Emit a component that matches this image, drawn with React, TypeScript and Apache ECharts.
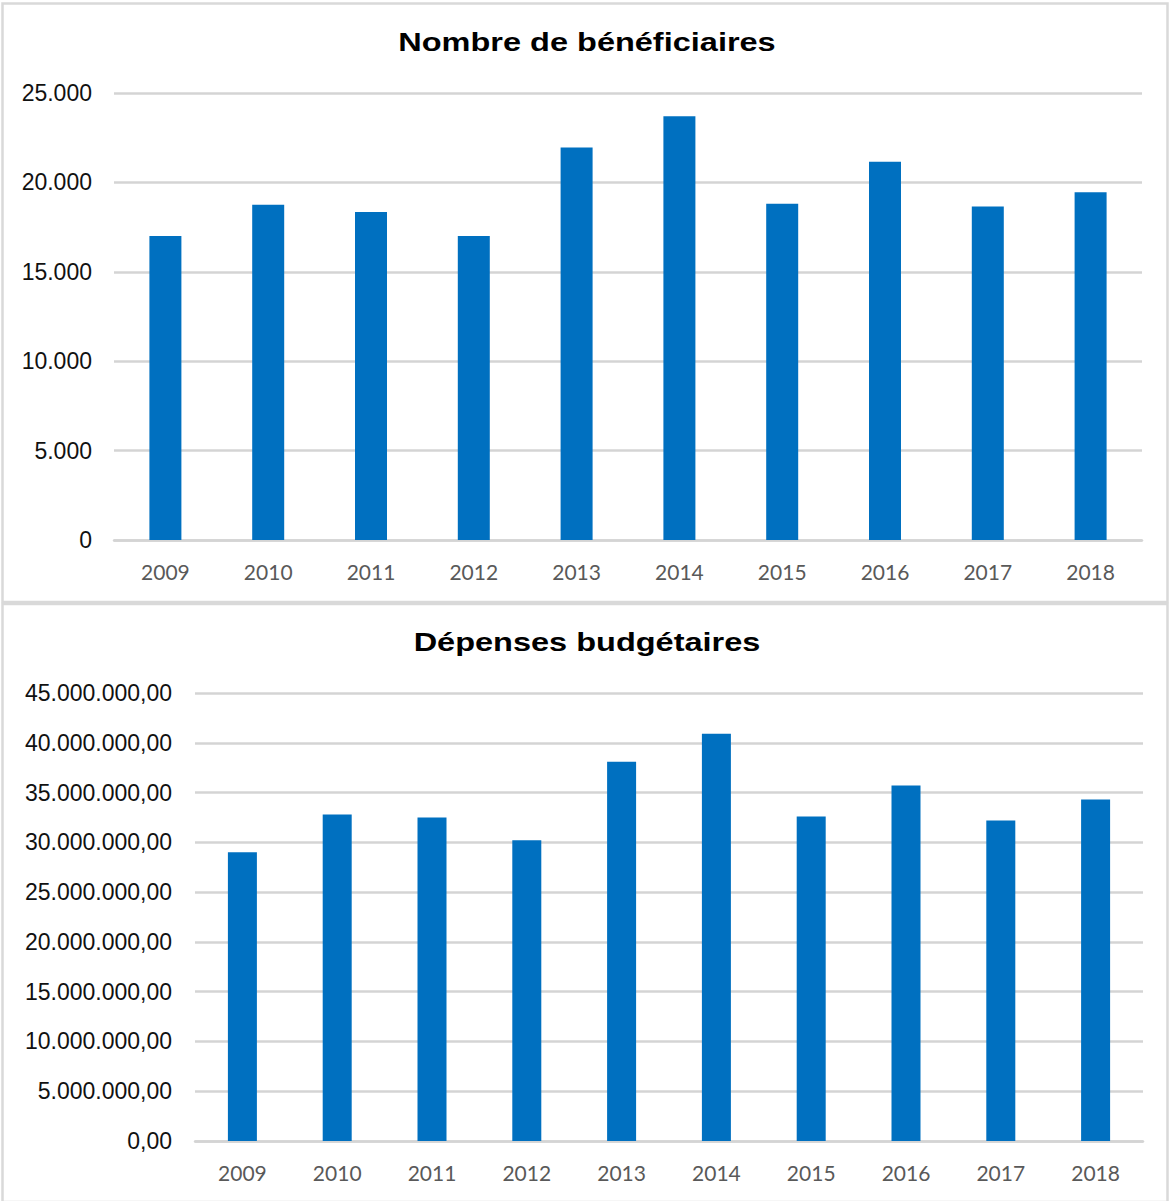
import React, { useEffect, useRef } from "react";
import * as echarts from "echarts";

const years = ["2009", "2010", "2011", "2012", "2013", "2014", "2015", "2016", "2017", "2018"];
const beneficiaires = [17000, 18750, 18350, 17000, 21950, 23700, 18800, 21150, 18650, 19450];
const depenses = [
  29000000, 32800000, 32500000, 30200000, 38100000, 40900000, 32600000, 35700000, 32200000, 34300000,
];
const titleTop = "Nombre de bénéficiaires";
const titleBottom = "Dépenses budgétaires";

const thousands = (v: number) => String(Math.round(v)).replace(/\B(?=(\d{3})+(?!\d))/g, ".");

export default function App() {
  const ref = useRef<HTMLDivElement>(null);
  useEffect(() => {
    document.body.style.margin = "0";
    const chart = echarts.init(ref.current!, null, { renderer: "svg" });
    const gridLine = { show: true, lineStyle: { color: "#d4d4d4", width: 2.5 } };
    const yLabel = (fmt: (v: number) => string, margin: number) => ({
      color: "#111111",
      fontFamily: "Liberation Sans",
      fontSize: 23,
      margin,
      formatter: fmt,
    });
    const xAxisCommon = {
      type: "category" as const,
      data: years,
      axisTick: { show: false },
      axisLine: { show: true, lineStyle: { color: "#d4d4d4", width: 2.5 } },
      axisLabel: { color: "#595959", fontFamily: "Lato", fontSize: 21, margin: 21 },
    };
    const titleText = (text: string, y: number) => ({
      type: "text",
      x: 587,
      y,
      scaleX: 1.3,
      style: {
        text,
        x: 0,
        y: 0,
        fill: "#000000",
        font: "bold 25px 'Liberation Sans'",
        textAlign: "center",
        textVerticalAlign: "middle",
      },
    });
    chart.setOption({
      animation: false,
      backgroundColor: "#ffffff",
      graphic: [
        {
          type: "rect",
          shape: { x: 2.5, y: 3.5, width: 1165, height: 598.5 },
          style: { fill: "none", stroke: "#d9d9d9", lineWidth: 2.5 },
        },
        {
          type: "rect",
          shape: { x: 2.5, y: 604, width: 1165, height: 598 },
          style: { fill: "none", stroke: "#d9d9d9", lineWidth: 2.5 },
        },
        titleText(titleTop, 42),
        titleText(titleBottom, 642.5),
      ],
      grid: [
        { left: 114, right: 28, top: 93, height: 447 },
        { left: 195, right: 27, top: 693, height: 448 },
      ],
      xAxis: [
        { ...xAxisCommon, gridIndex: 0 },
        { ...xAxisCommon, gridIndex: 1 },
      ],
      yAxis: [
        {
          type: "value",
          gridIndex: 0,
          min: 0,
          max: 25000,
          interval: 5000,
          axisLine: { show: false },
          axisTick: { show: false },
          splitLine: gridLine,
          axisLabel: yLabel((v: number) => thousands(v), 22),
        },
        {
          type: "value",
          gridIndex: 1,
          min: 0,
          max: 45000000,
          interval: 5000000,
          axisLine: { show: false },
          axisTick: { show: false },
          splitLine: gridLine,
          axisLabel: yLabel((v: number) => thousands(v) + ",00", 23),
        },
      ],
      series: [
        {
          type: "bar",
          xAxisIndex: 0,
          yAxisIndex: 0,
          data: beneficiaires,
          barWidth: 32,
          itemStyle: { color: "#0070C0" },
        },
        {
          type: "bar",
          xAxisIndex: 1,
          yAxisIndex: 1,
          data: depenses,
          barWidth: 29,
          itemStyle: { color: "#0070C0" },
        },
      ],
    });
    return () => chart.dispose();
  }, []);
  return <div ref={ref} style={{ width: 1170, height: 1201 }} />;
}
